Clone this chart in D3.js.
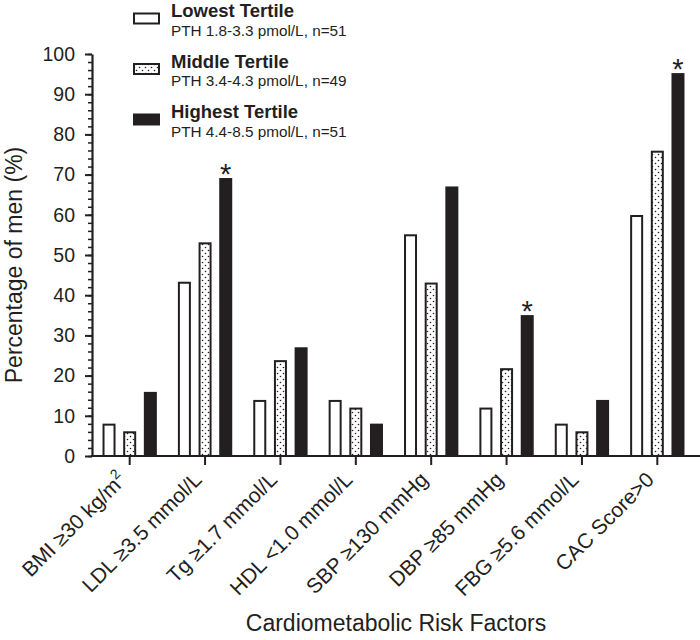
<!DOCTYPE html>
<html>
<head>
<meta charset="utf-8">
<script src="https://cdn.jsdelivr.net/npm/d3@7"></script>
<style>
  html, body { margin: 0; padding: 0; background: #fff; }
  svg { display: block; font-family: "Liberation Sans", Arial, Helvetica, sans-serif; }
</style>
</head>
<body>
<svg id="chart" width="700" height="640"></svg>
<script>
// ---- data ----
const categories = ["BMI ≥30 kg/m^2", "LDL ≥3.5 mmol/L", "Tg ≥1.7 mmol/L", "HDL <1.0 mmol/L",
                    "SBP ≥130 mmHg", "DBP ≥85 mmHg", "FBG ≥5.6 mmol/L", "CAC Score>0"];
const seriesNames = ["Lowest Tertile", "Middle Tertile", "Highest Tertile"];
const seriesSubs = ["PTH 1.8-3.3 pmol/L, n=51", "PTH 3.4-4.3 pmol/L, n=49", "PTH 4.4-8.5 pmol/L, n=51"];
const lowest  = [7.8, 43.1, 13.7, 13.7, 54.9, 11.8, 7.8, 59.7];
const middle  = [5.9, 52.9, 23.6, 11.8, 42.9, 21.6, 5.9, 75.7];
const highest = [15.7, 68.9, 26.8, 7.8, 66.8, 34.8, 13.7, 95.0];
const significant = [false, true, false, false, false, true, false, true]; // asterisk on highest tertile
const yTicks = [0, 10, 20, 30, 40, 50, 60, 70, 80, 90, 100];
const yMinorTicks = d3.range(0, 101, 2);

const values = [lowest, middle, highest];
const ink = "#231f20";

const svg = d3.select("#chart");

// pattern for the dotted bars
const defs = svg.append("defs");
const pat = defs.append("pattern").attr("id", "dots").attr("patternUnits", "userSpaceOnUse")
  .attr("width", 6).attr("height", 6);
pat.append("rect").attr("width", 6).attr("height", 6).attr("fill", "#fff");
pat.append("circle").attr("cx", 1.5).attr("cy", 1.5).attr("r", 0.8).attr("fill", ink);
pat.append("circle").attr("cx", 4.5).attr("cy", 4.5).attr("r", 0.8).attr("fill", ink);

const fills = ["#fff", "url(#dots)", ink];

// ---- scales ----
const x0 = d3.scaleBand().domain(categories).range([92, 695]).paddingInner(0).paddingOuter(0);
const x1 = d3.scaleBand().domain(seriesNames).range([-31, 31]);
const y = d3.scaleLinear().domain([0, 100]).range([456, 54]);
const barW = 11;

// ---- bars ----
const g = svg.append("g");
categories.forEach((c, i) => {
  const cx = x0(c) + x0.bandwidth() / 2;
  seriesNames.forEach((s, k) => {
    const v = values[k][i];
    const bx = cx + x1(s) + x1.bandwidth() / 2;
    g.append("rect")
      .attr("x", bx - barW / 2)
      .attr("y", y(v))
      .attr("width", barW)
      .attr("height", y(0) - y(v))
      .attr("fill", fills[k])
      .attr("stroke", ink)
      .attr("stroke-width", 2);
    if (k === 2 && significant[i]) {
      g.append("text")
        .attr("x", bx)
        .attr("y", y(v) + 5)
        .attr("text-anchor", "middle")
        .attr("font-size", 29)
        .attr("fill", ink)
        .text("*");
    }
  });
});

// ---- y axis ----
const yAxisG = svg.append("g").attr("transform", "translate(92,0)");
yAxisG.call(d3.axisLeft(y).tickValues(yMinorTicks).tickSize(4).tickFormat(""))
  .call(sel => sel.select(".domain").remove());
yAxisG.selectAll(".tick line").attr("stroke", ink).attr("stroke-width", 1.5);
const yMajor = svg.append("g").attr("transform", "translate(92,0)")
  .call(d3.axisLeft(y).tickValues(yTicks).tickSize(7).tickPadding(10).tickSizeOuter(0));
yMajor.select(".domain").attr("stroke", ink).attr("stroke-width", 2.2);
yMajor.selectAll(".tick line").attr("stroke", ink).attr("stroke-width", 2);
yMajor.selectAll(".tick text").attr("font-size", 19.5).attr("fill", ink)
  .attr("font-family", "Liberation Sans, Arial, sans-serif");

// ---- x axis ----
const xAxisG = svg.append("g").attr("transform", "translate(0,456)");
xAxisG.append("line").attr("x1", 91).attr("x2", 700).attr("y1", 0).attr("y2", 0)
  .attr("stroke", ink).attr("stroke-width", 2.2);
categories.forEach(c => {
  const cx = x0(c) + x0.bandwidth() / 2;
  xAxisG.append("line").attr("x1", cx).attr("x2", cx).attr("y1", 0).attr("y2", 9)
    .attr("stroke", ink).attr("stroke-width", 2);
  const t = xAxisG.append("text")
    .attr("transform", `translate(${cx - 2},${25}) rotate(-45)`)
    .attr("text-anchor", "end")
    .attr("font-size", 21)
    .attr("fill", ink);
  const parts = c.split("^");
  t.append("tspan").text(parts[0]);
  if (parts[1]) {
    t.append("tspan").attr("font-size", 14).attr("dy", -9).text(parts[1]);
  }
});

// ---- axis titles ----
svg.append("text")
  .attr("transform", "translate(22,265) rotate(-90)")
  .attr("text-anchor", "middle")
  .attr("font-size", 23)
  .attr("fill", ink)
  .text("Percentage of men (%)");
svg.append("text")
  .attr("x", 396).attr("y", 631)
  .attr("text-anchor", "middle")
  .attr("font-size", 23)
  .attr("fill", ink)
  .text("Cardiometabolic Risk Factors");

// ---- legend ----
const leg = svg.append("g");
seriesNames.forEach((s, k) => {
  const by = 17 + k * 50.5;
  leg.append("rect").attr("x", 134).attr("y", by - 3.5).attr("width", 25).attr("height", 10)
    .attr("fill", fills[k]).attr("stroke", ink).attr("stroke-width", 2);
  leg.append("text").attr("x", 171).attr("y", by)
    .attr("font-size", 18.5).attr("font-weight", "bold").attr("fill", ink).text(s);
  leg.append("text").attr("x", 171).attr("y", by + 18.5)
    .attr("font-size", 15.3).attr("fill", ink).text(seriesSubs[k]);
});
</script>
</body>
</html>
